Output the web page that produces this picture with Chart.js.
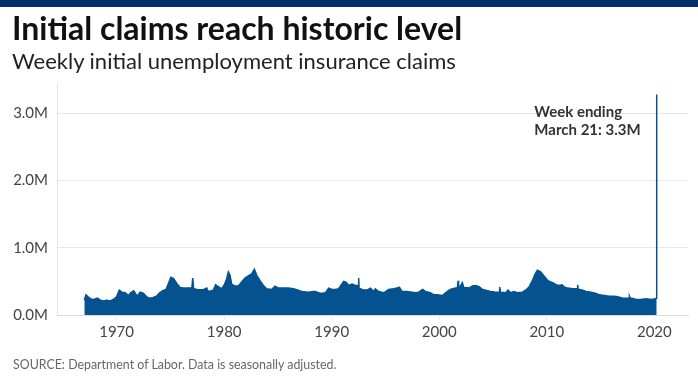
<!DOCTYPE html>
<html>
<head>
<meta charset="utf-8">
<script src="https://cdn.jsdelivr.net/npm/chart.js@4.4.1/dist/chart.umd.min.js"></script>
<style>
    html, body { margin: 0; padding: 0; background: #fff; }
    body { width: 698px; height: 392px; position: relative; overflow: hidden; font-family: Lato, "Open Sans", sans-serif; }
    #topbar { position: absolute; left: 0; top: 0; width: 698px; height: 7px; background: #012f6b; }
    #title { position: absolute; left: 12px; top: 12px; font-size: 32px; line-height: 32px; font-weight: 700; color: #111; white-space: nowrap; }
    #subtitle { position: absolute; left: 12px; top: 50px; font-size: 22px; line-height: 22px; color: #222; white-space: nowrap; }
    #source { position: absolute; left: 13px; top: 359px; font-size: 12.4px; line-height: 12px; color: #666; white-space: nowrap; }
    #chart { position: absolute; left: 0; top: 0; }
</style>
</head>
<body>
<canvas id="chart" width="698" height="392"></canvas>
<div id="topbar"></div>
<div id="title">Initial claims reach historic level</div>
<div id="subtitle">Weekly initial unemployment insurance claims</div>
<div id="source">SOURCE: Department of Labor. Data is seasonally adjusted.</div>
<script>
// weekly initial claims, millions
const weekYears = [
    1967.00, 1967.15, 1967.35, 1967.60, 1967.90, 1968.20, 1968.50, 1968.80, 1969.10, 1969.40,
    1969.70, 1970.00, 1970.25, 1970.50, 1970.80, 1971.10, 1971.30, 1971.60, 1971.90, 1972.20,
    1972.50, 1972.80, 1973.10, 1973.40, 1973.70, 1974.00, 1974.30, 1974.60, 1974.90, 1975.05,
    1975.30, 1975.60, 1975.90, 1976.20, 1976.60, 1977.00, 1977.08, 1977.16, 1977.50, 1978.07,
    1978.38, 1978.53, 1979.00, 1979.21, 1979.46, 1979.77, 1980.02, 1980.24, 1980.39, 1980.55,
    1980.70, 1981.01, 1981.32, 1981.63, 1981.94, 1982.25, 1982.56, 1982.81, 1983.03, 1983.34,
    1983.65, 1983.96, 1984.42, 1984.73, 1985.04, 1985.51, 1985.97, 1986.44, 1986.75, 1987.21,
    1987.83, 1988.30, 1988.48, 1988.95, 1989.41, 1989.72, 1990.03, 1990.34, 1990.65, 1990.90,
    1991.12, 1991.33, 1991.58, 1991.89, 1992.20, 1992.48, 1992.51, 1992.55, 1992.67, 1992.98,
    1993.29, 1993.60, 1993.91, 1994.06, 1994.37, 1994.84, 1995.30, 1995.77, 1996.08, 1996.29,
    1996.54, 1997.00, 1997.47, 1997.78, 1998.09, 1998.46, 1998.71, 1999.17, 1999.51, 1999.82,
    2000.29, 2000.60, 2000.91, 2001.22, 2001.53, 2001.70, 2001.75, 2001.80, 2001.90, 2002.15,
    2002.30, 2002.52, 2002.77, 2003.08, 2003.39, 2003.70, 2004.01, 2004.32, 2004.78, 2005.25,
    2005.58, 2005.62, 2005.70, 2006.18, 2006.40, 2006.64, 2006.95, 2007.26, 2007.73, 2008.04,
    2008.35, 2008.66, 2008.91, 2009.12, 2009.43, 2009.74, 2010.05, 2010.24, 2010.55, 2010.86,
    2011.17, 2011.42, 2011.63, 2011.94, 2012.41, 2012.72, 2012.84, 2012.87, 2012.92, 2013.03,
    2013.34, 2013.65, 2014.11, 2014.58, 2014.89, 2015.35, 2015.82, 2016.28, 2016.59, 2017.06,
    2017.52, 2017.65, 2017.68, 2017.75, 2017.93, 2018.30, 2018.76, 2019.23, 2019.69, 2020.00,
    2020.20, 2020.22
];
const claimsM = [
    0.22, 0.30, 0.27, 0.24, 0.23, 0.25, 0.22, 0.21, 0.22, 0.21,
    0.23, 0.27, 0.37, 0.34, 0.33, 0.29, 0.33, 0.36, 0.28, 0.34,
    0.32, 0.27, 0.25, 0.26, 0.28, 0.33, 0.36, 0.38, 0.50, 0.56,
    0.54, 0.47, 0.41, 0.40, 0.40, 0.40, 0.55, 0.39, 0.38, 0.375,
    0.40, 0.35, 0.37, 0.45, 0.42, 0.39, 0.45, 0.54, 0.64, 0.59,
    0.46, 0.43, 0.43, 0.49, 0.55, 0.58, 0.61, 0.68, 0.59, 0.51,
    0.44, 0.39, 0.38, 0.43, 0.40, 0.40, 0.40, 0.39, 0.375, 0.35,
    0.34, 0.35, 0.35, 0.32, 0.33, 0.40, 0.38, 0.38, 0.39, 0.45,
    0.50, 0.49, 0.44, 0.46, 0.44, 0.44, 0.55, 0.39, 0.39, 0.37,
    0.37, 0.40, 0.35, 0.39, 0.35, 0.33, 0.38, 0.39, 0.40, 0.415,
    0.35, 0.35, 0.34, 0.33, 0.34, 0.38, 0.35, 0.33, 0.30, 0.30,
    0.29, 0.33, 0.37, 0.39, 0.40, 0.41, 0.51, 0.42, 0.41, 0.48,
    0.40, 0.41, 0.40, 0.43, 0.44, 0.42, 0.38, 0.37, 0.35, 0.34,
    0.34, 0.415, 0.34, 0.33, 0.37, 0.33, 0.35, 0.33, 0.34, 0.37,
    0.415, 0.51, 0.61, 0.665, 0.64, 0.58, 0.52, 0.50, 0.48, 0.45,
    0.44, 0.45, 0.415, 0.40, 0.39, 0.39, 0.39, 0.45, 0.38, 0.38,
    0.37, 0.35, 0.34, 0.32, 0.30, 0.29, 0.28, 0.28, 0.27, 0.25,
    0.25, 0.25, 0.28, 0.25, 0.25, 0.23, 0.23, 0.24, 0.23, 0.24,
    0.25, 3.28
];
const xTickYears = [1970, 1980, 1990, 2000, 2010, 2020];
const yTickValues = [0, 1, 2, 3];
const calloutLines = ['Week ending', 'March 21: 3.3M'];

const navy = '#04528f';

// callout next to the last (record) week
const calloutPlugin = {
    id: 'callout',
    afterDatasetsDraw(chart) {
        const {ctx, scales: {x, y}} = chart;
        const last = weekYears.length - 1;
        ctx.save();
        ctx.font = 'bold 15px Lato, "Open Sans", sans-serif';
        ctx.fillStyle = '#333';
        ctx.textBaseline = 'alphabetic';
        const w = Math.max(...calloutLines.map(t => ctx.measureText(t).width));
        const left = x.getPixelForValue(weekYears[last]) - 16 - w;
        const top = y.getPixelForValue(3);
        calloutLines.forEach((t, i) => ctx.fillText(t, left, top + 4 + i * 18));
        ctx.restore();
    }
};

new Chart(document.getElementById('chart'), {
    type: 'line',
    data: {
        datasets: [{
            data: weekYears.map((yr, i) => ({x: yr, y: claimsM[i]})),
            borderColor: navy,
            backgroundColor: navy,
            borderWidth: 1.5,
            fill: 'origin',
            pointRadius: 0,
            tension: 0
        }]
    },
    options: {
        responsive: false,
        animation: false,
        devicePixelRatio: 1,
        layout: { padding: { top: 83, right: 10, left: 0, bottom: 0 } },
        plugins: {
            legend: { display: false },
            tooltip: { enabled: false }
        },
        scales: {
            x: {
                type: 'linear',
                min: 1964.46,
                max: 2023.13,
                afterBuildTicks: (scale) => { scale.ticks = xTickYears.map(v => ({value: v})); },
                afterFit: (scale) => { scale.height = 77; },
                grid: { display: true, drawOnChartArea: false, drawTicks: true, tickLength: 5, color: '#eeeeee' },
                border: { display: true, color: '#d9dde3' },
                ticks: {
                    padding: 3,
                    color: '#444',
                    font: { family: 'Lato, "Open Sans", sans-serif', size: 15 },
                    maxRotation: 0,
                    callback: (v) => String(v)
                }
            },
            y: {
                min: 0,
                max: 3.45,
                afterBuildTicks: (scale) => { scale.ticks = yTickValues.map(v => ({value: v})); },
                afterFit: (scale) => { scale.width = 57; },
                grid: { color: '#e8e8e8', drawTicks: false },
                border: { display: true, color: '#e3e3e3' },
                ticks: {
                    padding: 9,
                    color: '#444',
                    font: { family: 'Lato, "Open Sans", sans-serif', size: 15 },
                    callback: (v) => v.toFixed(1) + 'M'
                }
            }
        }
    },
    plugins: [calloutPlugin]
});
</script>
</body>
</html>
